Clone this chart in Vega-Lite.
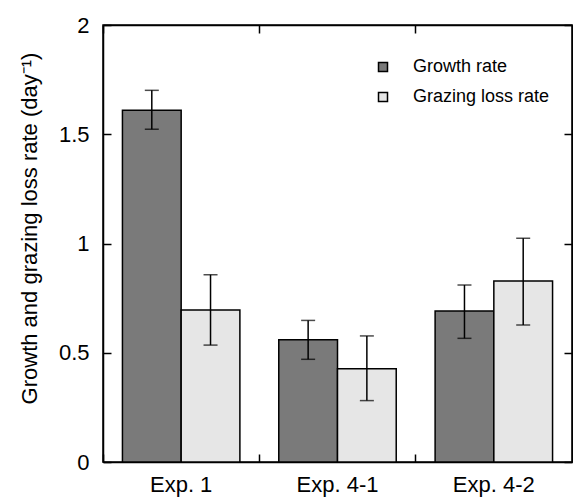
{
  "$schema": "https://vega.github.io/schema/vega-lite/v6.json",
  "autosize": "none",
  "padding": {"left": 103, "top": 25, "right": 1, "bottom": 37},
  "width": 469,
  "height": 437,
  "background": "white",
  "config": {
    "view": {"stroke": "black", "strokeWidth": 1.5},
    "font": "Liberation Sans",
    "axis": {"labelFont": "Liberation Sans", "titleFont": "Liberation Sans", "labelColor": "black", "titleColor": "black", "domainColor": "black", "tickColor": "black", "domainWidth": 1.5, "tickWidth": 1.5, "grid": false}
  },
  "data": {
    "values": [
      {"exp": "Exp. 1", "series": "Growth rate", "value": 1.61, "lo": 1.523, "hi": 1.701},
      {"exp": "Exp. 1", "series": "Grazing loss rate", "value": 0.696, "lo": 0.535, "hi": 0.857},
      {"exp": "Exp. 4-1", "series": "Growth rate", "value": 0.56, "lo": 0.47, "hi": 0.648},
      {"exp": "Exp. 4-1", "series": "Grazing loss rate", "value": 0.427, "lo": 0.281, "hi": 0.577},
      {"exp": "Exp. 4-2", "series": "Growth rate", "value": 0.691, "lo": 0.566, "hi": 0.81},
      {"exp": "Exp. 4-2", "series": "Grazing loss rate", "value": 0.828, "lo": 0.627, "hi": 1.024}
    ]
  },
  "resolve": {"axis": {"x": "independent", "y": "independent"}},
  "layer": [
    {
      "mark": {"type": "bar", "stroke": "black", "strokeWidth": 1.5},
      "encoding": {
        "x": {"field": "exp", "type": "nominal", "sort": ["Exp. 1", "Exp. 4-1", "Exp. 4-2"],
          "scale": {"paddingInner": 0, "paddingOuter": 0},
          "axis": {"title": null, "orient": "bottom", "labelAngle": 0, "labelFontSize": 22, "ticks": false, "labelPadding": 12, "labelFlush": false}},
        "xOffset": {"field": "series", "type": "nominal", "sort": ["Growth rate", "Grazing loss rate"],
          "scale": {"paddingInner": 0, "paddingOuter": 0.331}},
        "y": {"field": "value", "type": "quantitative",
          "scale": {"domain": [0, 2], "nice": false, "zero": true},
          "axis": {"orient": "left", "title": "Growth and grazing loss rate (day⁻¹)", "titleFontSize": 22, "titleFontWeight": "normal", "titleX": -74, "titleY": 203, "titleAlign": "center", "titleBaseline": "middle", "titleAngle": -90,
            "values": [0, 0.5, 1, 1.5, 2], "format": "~g", "labelFontSize": 22, "tickSize": -8, "labelPadding": 22}},
        "fill": {"field": "series", "type": "nominal", "sort": ["Growth rate", "Grazing loss rate"],
          "scale": {"domain": ["Growth rate", "Grazing loss rate"], "range": ["#7a7a7a", "#e6e6e6"]},
          "legend": {"title": null, "orient": "none", "legendX": 271, "legendY": 33, "padding": 0,
            "symbolType": "square", "symbolSize": 81, "symbolStrokeColor": "black", "symbolStrokeWidth": 1.5,
            "labelFontSize": 18, "labelColor": "black", "labelFont": "Liberation Sans", "labelOffset": 21, "rowPadding": 12}}
      }
    },
    {
      "mark": {"type": "rule", "color": "black", "strokeWidth": 1.5},
      "encoding": {
        "x": {"field": "exp", "type": "nominal", "sort": ["Exp. 1", "Exp. 4-1", "Exp. 4-2"],
          "axis": {"orient": "top", "title": null, "labels": false, "bandPosition": 0, "tickSize": -8}},
        "xOffset": {"field": "series", "type": "nominal", "sort": ["Growth rate", "Grazing loss rate"]},
        "y": {"field": "lo", "type": "quantitative",
          "axis": {"orient": "right", "title": null, "labels": false, "values": [0, 0.5, 1, 1.5, 2], "tickSize": -8}},
        "y2": {"field": "hi"}
      }
    },
    {
      "mark": {"type": "tick", "color": "black", "thickness": 1.5, "size": 14, "orient": "horizontal"},
      "encoding": {
        "x": {"field": "exp", "type": "nominal", "sort": ["Exp. 1", "Exp. 4-1", "Exp. 4-2"],
          "axis": {"orient": "bottom", "title": null, "labels": false, "bandPosition": 0, "tickSize": -8, "domain": false}},
        "xOffset": {"field": "series", "type": "nominal", "sort": ["Growth rate", "Grazing loss rate"]},
        "y": {"field": "lo", "type": "quantitative", "axis": null}
      }
    },
    {
      "mark": {"type": "tick", "color": "black", "thickness": 1.5, "size": 14, "orient": "horizontal"},
      "encoding": {
        "x": {"field": "exp", "type": "nominal", "sort": ["Exp. 1", "Exp. 4-1", "Exp. 4-2"], "axis": null},
        "xOffset": {"field": "series", "type": "nominal", "sort": ["Growth rate", "Grazing loss rate"]},
        "y": {"field": "hi", "type": "quantitative", "axis": null}
      }
    }
  ]
}
